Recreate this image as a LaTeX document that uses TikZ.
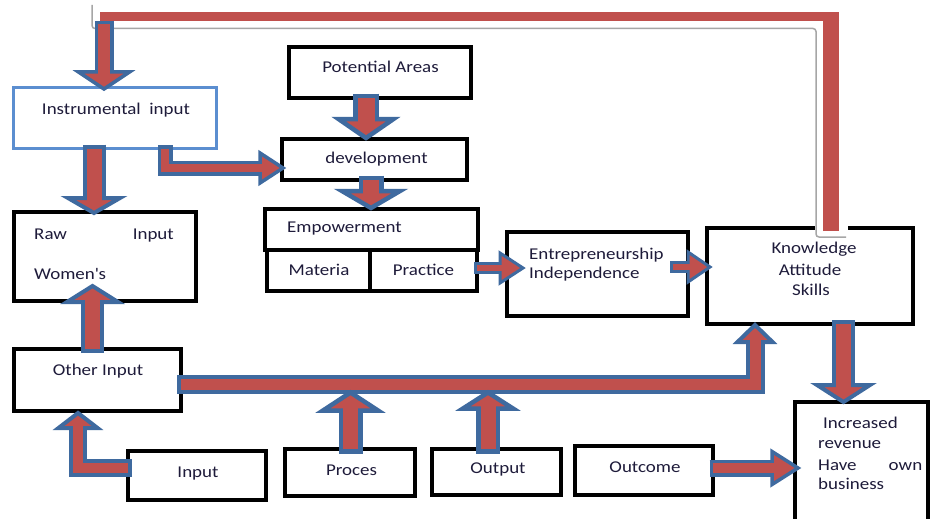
\documentclass[tikz,border=0pt]{standalone}
\usepackage{fontspec}
\setmainfont{Carlito}[FakeStretch=1.15]
\usetikzlibrary{calc}

\definecolor{arrowred}{HTML}{C0504D}
\definecolor{arrowblue}{HTML}{3F6A9F}
\definecolor{framebl}{HTML}{5B8ED0}
\definecolor{ink}{HTML}{1E1B3A}
\definecolor{shadowgrey}{HTML}{A6A6A6}

\tikzset{
  box/.style={draw=black, line width=4pt, rectangle, inner sep=0pt, outer sep=0pt},
  bluebox/.style={draw=framebl, line width=3.5pt, rectangle, inner sep=0pt, outer sep=0pt},
  txt/.style={inner sep=0pt, text=ink, font=\fontsize{16.5}{20}\selectfont},
  blkedge/.style={draw=arrowblue, line join=miter},
  blkcore/.style={draw=arrowred, line join=miter},
  blkhead/.style={fill=arrowred, draw=arrowblue, line join=miter},
}

% Block arrow: red body with a blue rim.
% #1 core width, #2 rim width, #3 half head width, #4 head length,
% #5 path up to the last bend, #6 last bend (or start), #7 tip
\newcommand{\blkarrow}[7]{%
  \coordinate (ba-h) at ($(#7)!#4!(#6)$);
  \coordinate (ba-l) at ($(ba-h)!#3!90:(#7)$);
  \coordinate (ba-r) at ($(ba-h)!#3!-90:(#7)$);
  \draw[blkedge, line width=#1+2*#2, shorten <=-#2] #5 -- (ba-h);
  \filldraw[blkhead, line width=#2] (ba-l) -- (#7) -- (ba-r) -- cycle;
  \draw[blkcore, line width=#1] #5 -- ($(ba-h)!#2!(#7)$);
}

\begin{document}
\begin{tikzpicture}[x=1pt, y=-1pt]
\useasboundingbox (0,0) rectangle (934,519);
\clip (0,0) rectangle (934,519);
\fill[white] (0,0) rectangle (934,519);

% boxes
\node[bluebox, minimum width=203pt, minimum height=61pt] (instr) at (115,118) {};
\node[box, minimum width=182pt, minimum height=51pt] (pot) at (380,72.5) {};
\node[box, minimum width=185pt, minimum height=41pt] (dev) at (374.5,159.5) {};
\node[box, minimum width=213pt, minimum height=41pt] (emp) at (371.5,229.5) {};
\node[box, minimum width=103pt, minimum height=41pt] (mat) at (318,270.5) {};
\node[box, minimum width=107.5pt, minimum height=41pt] (prac) at (423.25,270.5) {};
\node[box, minimum width=182pt, minimum height=89pt] (raw) at (105,256.5) {};
\node[box, minimum width=167pt, minimum height=62pt] (other) at (97.5,380) {};
\node[box, minimum width=138pt, minimum height=49pt] (input) at (197,475.5) {};
\node[box, minimum width=130pt, minimum height=47pt] (proc) at (350,472.5) {};
\node[box, minimum width=129pt, minimum height=46pt] (outp) at (496.5,472) {};
\node[box, minimum width=138pt, minimum height=49pt] (outc) at (644,470.5) {};
\node[box, minimum width=181pt, minimum height=84pt] (entr) at (597.5,274) {};
\node[box, minimum width=206pt, minimum height=96pt] (kas) at (810,276) {};
\node[box, minimum width=133pt, minimum height=138pt] (inc) at (861.5,471) {};

% return line from Knowledge/Attitude/Skills back to Instrumental input
\coordinate (fbK) at ($(kas.north)+(21,3)$);
\coordinate (fbL) at ($(instr.north)+(-11,-63)$);
\coordinate (fbTop) at (0,12);
\coordinate (fbTip) at ($(instr.north)+(-11,1.5)$);
\fill[white] ($(fbK)+(-16,-9)$) rectangle ($(fbK)+(17,7)$);
\draw[shadowgrey, line width=1.5pt, rounded corners=3pt]
  ($(fbL)+(-12,-19.5)$) -- ($(fbL)+(-12,4)$) -- ($(fbK)+(-15,-202.5)$)
  -- ($(fbK)+(-15,6)$) -- ($(fbK)+(15,6)$);
\draw[arrowred, line width=16pt] (fbK) -- (fbK |- fbTop);
\draw[arrowred, line width=9.5pt] ($(fbK |- fbTop)+(8,4.75)$) -- ($(fbL |- fbTop)+(-4,4.75)$);
\blkarrow{12pt}{3.5pt}{25.5pt}{17pt}{(fbL)}{fbL}{fbTip}

% Potential Areas -> development -> Empowerment
\coordinate (s2) at ($(pot.south)+(-14,0)$);
\coordinate (t2) at ($(dev.north)+(-8.5,-1)$);
\blkarrow{17pt}{4.5pt}{27.5pt}{19pt}{(s2)}{s2}{t2}
\coordinate (s3) at ($(dev.south)+(-3.5,0)$);
\coordinate (t3) at ($(emp.north)+(-0.5,-1)$);
\blkarrow{16pt}{4.5pt}{29pt}{17pt}{(s3)}{s3}{t3}

% Instrumental input -> development
\coordinate (s4) at ($(instr.south)+(50,0)$);
\coordinate (t4) at ($(dev.west)+(1,8.5)$);
\coordinate (c4) at (s4 |- t4);
\blkarrow{8pt}{3.5pt}{15pt}{23pt}{(s4) -- (c4)}{c4}{t4}

% Instrumental input -> Raw Input
\coordinate (s5) at ($(instr.south)+(-21,0)$);
\coordinate (t5) at ($(raw.north)+(-11,1)$);
\blkarrow{15pt}{4pt}{26pt}{15pt}{(s5)}{s5}{t5}

% Other Input -> Raw Input
\coordinate (s6) at ($(other.north)+(-5,0)$);
\coordinate (t6) at ($(raw.south)+(-12.5,-15)$);
\blkarrow{15pt}{4pt}{25.5pt}{16pt}{(s6)}{s6}{t6}

% Input -> Other Input
\coordinate (s7) at ($(input.west)+(0,-7.5)$);
\coordinate (t7) at ($(other.south)+(-19.5,2)$);
\coordinate (c7) at (t7 |- s7);
\blkarrow{10pt}{4pt}{19.5pt}{15pt}{(s7) -- (c7)}{c7}{t7}

% Other Input -> Knowledge/Attitude/Skills
\coordinate (barY) at ($(other.east)+(0,4)$);
\coordinate (t10) at ($(kas.south)+(-55,1)$);
\coordinate (c10) at (t10 |- barY);
\blkarrow{11pt}{4pt}{17.5pt}{17pt}{(barY) -- (c10)}{c10}{t10}

% Proces and Output up to the bar
\coordinate (s8) at ($(proc.north)+(0.5,0)$);
\coordinate (t8) at ($(s8 |- barY)+(0,8.5)$);
\blkarrow{15pt}{4.5pt}{27.5pt}{18pt}{(s8)}{s8}{t8}
\coordinate (s9) at ($(outp.north)+(-8.5,0)$);
\coordinate (t9) at ($(s9 |- barY)+(0,8.5)$);
\blkarrow{15pt}{4.5pt}{25pt}{16pt}{(s9)}{s9}{t9}

% Practice -> Entrepreneurship -> Knowledge
\coordinate (s11) at ($(prac.east)+(0,-2.5)$);
\coordinate (t11) at ($(entr.west)+(16,-6)$);
\blkarrow{6pt}{3pt}{15pt}{23pt}{(s11)}{s11}{t11}
\coordinate (s12) at ($(entr.east)+(-15,-7)$);
\coordinate (t12) at ($(kas.west)+(3,-9)$);
\blkarrow{6pt}{3pt}{15pt}{22pt}{(s12)}{s12}{t12}

% Knowledge -> Increased revenue
\coordinate (s13) at ($(kas.south)+(33.5,0)$);
\coordinate (t13) at ($(inc.north)+(-18,0)$);
\blkarrow{15pt}{4pt}{26.5pt}{17pt}{(s13)}{s13}{t13}

% Outcome -> Increased revenue
\coordinate (s14) at ($(outc.east)+(0,-2.5)$);
\coordinate (t14) at ($(inc.west)+(3,-3)$);
\blkarrow{10pt}{3.5pt}{16.5pt}{26pt}{(s14)}{s14}{t14}

% labels
\node[txt, anchor=base] (instr-t) at (116,114) {Instrumental\ \ input};
\node[txt, anchor=base] (pot-t) at (380.5,72.5) {Potential Areas};
\node[txt, anchor=base] (dev-t) at (376.5,163) {development};
\node[txt, anchor=base west] (emp-t) at (287,232.5) {Empowerment};
\node[txt, anchor=base] (mat-t) at (319,275) {Materia};
\node[txt, anchor=base] (prac-t) at (423.5,275) {Practice};
\node[txt, anchor=base west] (raw-t) at (34,239) {Raw};
\node[txt, anchor=base east] (rawin-t) at (174,239) {Input};
\node[txt, anchor=base west] (women-t) at (34,279) {Women\textquotesingle s};
\node[txt, anchor=base] (other-t) at (98,375) {Other Input};
\node[txt, anchor=base] (input-t) at (198,477) {Input};
\node[txt, anchor=base] (proc-t) at (351.5,475) {Proces};
\node[txt, anchor=base] (outp-t) at (498,473.5) {Output};
\node[txt, anchor=base] (outc-t) at (645,472) {Outcome};
\node[txt, anchor=base west] (entr-t1) at (529,259) {Entrepreneurship};
\node[txt, anchor=base west] (entr-t2) at (529,278) {Independence};
\node[txt, anchor=base] (kas-t1) at (814,253) {Knowledge};
\node[txt, anchor=base] (kas-t2) at (810,275) {Attitude};
\node[txt, anchor=base] (kas-t3) at (811,295) {Skills};
\node[txt, anchor=base west] (inc-t1) at (823,428) {Increased};
\node[txt, anchor=base west] (inc-t2) at (818,448) {revenue};
\node[txt, anchor=base west] (inc-t3) at (818,470) {\makebox[104pt][s]{Have own}};
\node[txt, anchor=base west] (inc-t4) at (818,489) {business};
\end{tikzpicture}
\end{document}
